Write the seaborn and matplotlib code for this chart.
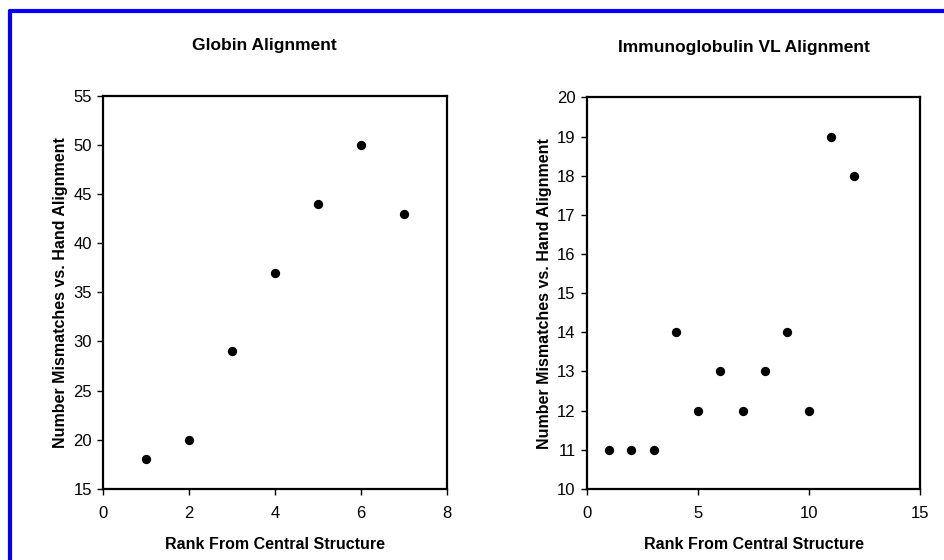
import numpy as np
import pandas as pd
import seaborn as sns
import matplotlib.pyplot as plt
from matplotlib.lines import Line2D

# data
globin_rank = [1, 2, 3, 4, 5, 6, 7]
globin_mismatch = [18, 20, 29, 37, 44, 50, 43]
immuno_rank = [1, 2, 3, 4, 5, 6, 7, 8, 9, 10, 11, 12]
immuno_mismatch = [11, 11, 11, 14, 12, 13, 12, 13, 14, 12, 19, 18]

sns.set_style("white")
plt.rcParams['font.family'] = ['Liberation Sans', 'DejaVu Sans']
plt.rcParams['text.color'] = 'black'
plt.rcParams['axes.labelcolor'] = 'black'

fig = plt.figure(figsize=(9.45, 5.6), dpi=100)
ax1 = fig.add_axes([0.109, 0.127, 0.364, 0.702])
ax2 = fig.add_axes([0.621, 0.127, 0.353, 0.699])

df1 = pd.DataFrame({"rank": globin_rank, "mm": globin_mismatch})
df2 = pd.DataFrame({"rank": immuno_rank, "mm": immuno_mismatch})

sns.scatterplot(data=df1, x="rank", y="mm", ax=ax1, color="black", s=45, edgecolor="black", linewidth=0)
sns.scatterplot(data=df2, x="rank", y="mm", ax=ax2, color="black", s=45, edgecolor="black", linewidth=0)

ax1.set(xlim=(0, 8), ylim=(15, 55), xticks=[0, 2, 4, 6, 8], yticks=range(15, 56, 5))
ax2.set(xlim=(0, 15), ylim=(10, 20), xticks=[0, 5, 10, 15], yticks=range(10, 21))

for ax, title in [(ax1, "Globin Alignment"), (ax2, "Immunoglobulin VL Alignment")]:
    ax.set_title(title, fontsize=12.5, fontweight="bold", pad=33, x=0.47, color="black")
    ax.set_xlabel("Rank From Central Structure", fontsize=11.5, fontweight="bold", labelpad=12, color="black")
    ax.set_ylabel("Number Mismatches vs. Hand Alignment", fontsize=11.5, fontweight="bold", labelpad=4, color="black")
    ax.tick_params(axis="both", direction="out", length=4, width=1, labelsize=12,
                   bottom=True, left=True, colors="black")
    ax.tick_params(axis="x", pad=8)
    ax.tick_params(axis="y", pad=4)
    for sp in ax.spines.values():
        sp.set_color("black")
        sp.set_linewidth(1.6)

# blue frame lines (top and left edges)
fig.add_artist(Line2D([0.011, 1.0], [0.981, 0.981], transform=fig.transFigure, color="#0000ff", lw=3))
fig.add_artist(Line2D([0.011, 0.011], [0.0, 0.981], transform=fig.transFigure, color="#0000ff", lw=3))

fig.savefig("out.png", dpi=100)
